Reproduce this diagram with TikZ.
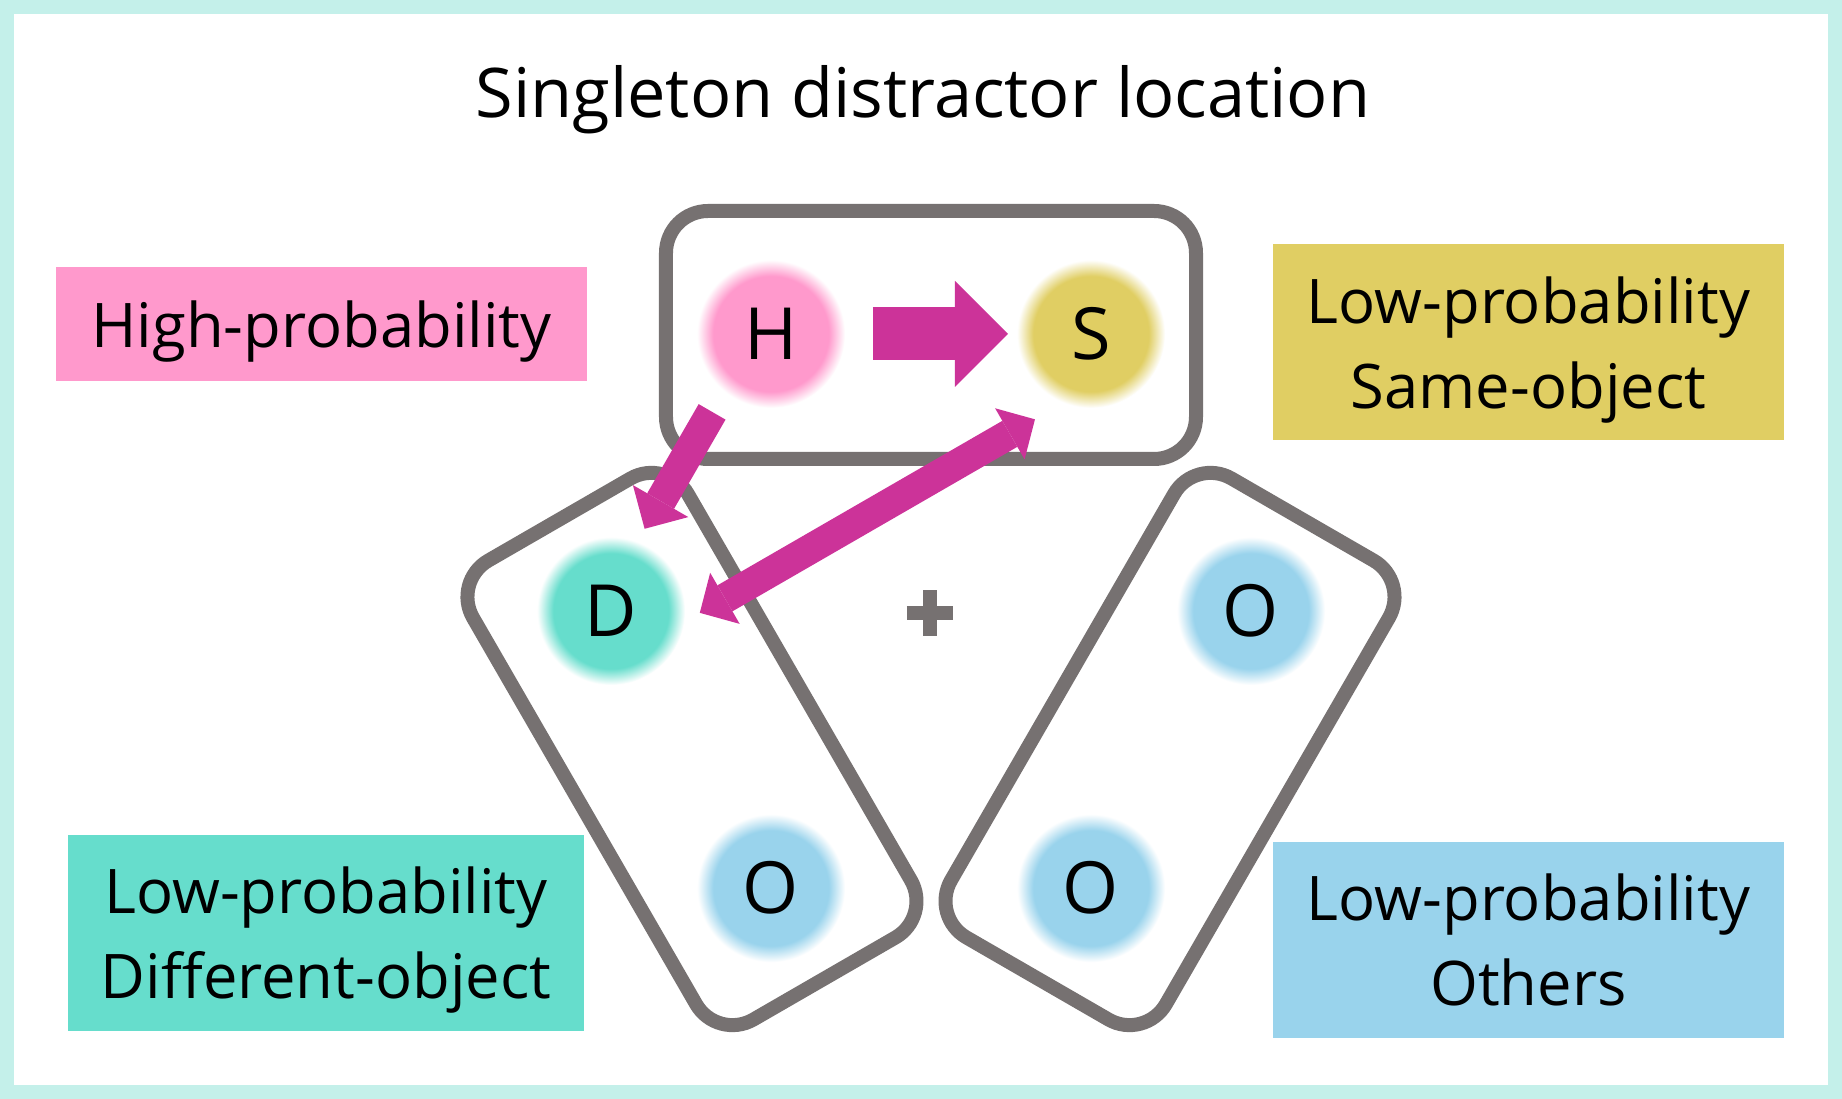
\documentclass[tikz,border=0pt]{standalone}
\usepackage{fontspec}
\setmainfont{Open Sans}
\usetikzlibrary{arrows.meta,calc}
\definecolor{framec}{HTML}{C4F0EA}
\definecolor{boxgray}{HTML}{767171}
\definecolor{arrowc}{HTML}{CC3399}
\definecolor{highc}{HTML}{FF99CC}
\definecolor{samec}{HTML}{E0CE63}
\definecolor{diffc}{HTML}{66DDCC}
\definecolor{otherc}{HTML}{99D3EC}
% soft edged location discs
\colorlet{spotc}{white}
\pgfdeclareradialshading[spotc]{spot}{\pgfpointorigin}{color(0bp)=(spotc); color(19.5bp)=(spotc); color(25bp)=(white); color(50bp)=(white)}

\begin{document}
\begin{tikzpicture}[x=1pt, y=1pt,
  objbox/.style={draw=boxgray, line width=14pt, rounded corners=42pt,
    minimum width=530pt, minimum height=248pt},
  spot/.style={circle, inner sep=0pt, minimum size=148pt, shading=spot,
    /utils/exec={\colorlet{spotc}{#1}}, font=\fontsize{72}{86}\selectfont},
  legendbox/.style={fill=#1, align=center, inner sep=0pt,
    font=\fontsize{61.5}{85}\selectfont},
  bigjump/.style={draw=arrowc, line width=53pt,
    -{Triangle[width=106pt, length=53pt, line width=0pt]}},
  thinjump/.style={draw=arrowc, line width=31pt,
    -{Triangle[width=64pt, length=32pt, line width=0pt]}},
  twojump/.style={draw=arrowc, line width=30pt,
    {Triangle[width=59pt, length=29pt, line width=0pt]}-{Triangle[width=59pt, length=29pt, line width=0pt]}},
  plusmark/.style={draw=boxgray, line width=14pt}]
\useasboundingbox (-931,-488) rectangle (911,611);
\fill[framec] (-931,-488) rectangle (911,611);
\fill[white] (-917,-474) rectangle (897,597);

\node[font=\fontsize{68.5}{80}\selectfont, anchor=base] (title) at (-8,493) {Singleton distractor location};

% the three objects
\node[objbox] (top) at (90:276) {};
\node[objbox, rotate=-60] (left) at (210:276) {};
\node[objbox, rotate=60] (right) at (330:276) {};

% six locations round fixation
\node[spot=highc] (H) at (120:320) {H};
\node[spot=samec] (S) at (60:320) {S};
\node[spot=diffc] (D) at (180:320) {D};
\node[spot=otherc] (O1) at (0:320) {O};
\node[spot=otherc] (O2) at (240:320) {O};
\node[spot=otherc] (O3) at (300:320) {O};

\draw[plusmark, shift={(-1,-2)}] (-23,0) -- (23,0) (0,-23) -- (0,23);

% shifts
\draw[bigjump, shorten <=102pt, shorten >=83pt] (H.center) -- (S.center);
\draw[thinjump] ($(H)+(240:97)+(150:12)$) -- ($(H)+(240:232)+(150:12)$);
\draw[twojump] ($(D)+(30:76)+(-60:46)$) -- ($(D)+(30:463)+(-60:46)$);

% legend
\node[legendbox=highc, minimum width=531pt, minimum height=114pt, text depth=0pt] (high) at (-609.5,287) {High-probability};
\node[legendbox=samec, minimum width=511pt, minimum height=196pt, text depth=0pt] (same) at (597.5,268.5) {Low-probability\\Same-object};
\node[legendbox=diffc, minimum width=516pt, minimum height=196pt, text depth=0pt] (diff) at (-605,-322) {Low-probability\\Different-object};
\node[legendbox=otherc, minimum width=511pt, minimum height=196pt] (others) at (597.5,-329) {Low-probability\\Others};
\end{tikzpicture}
\end{document}
